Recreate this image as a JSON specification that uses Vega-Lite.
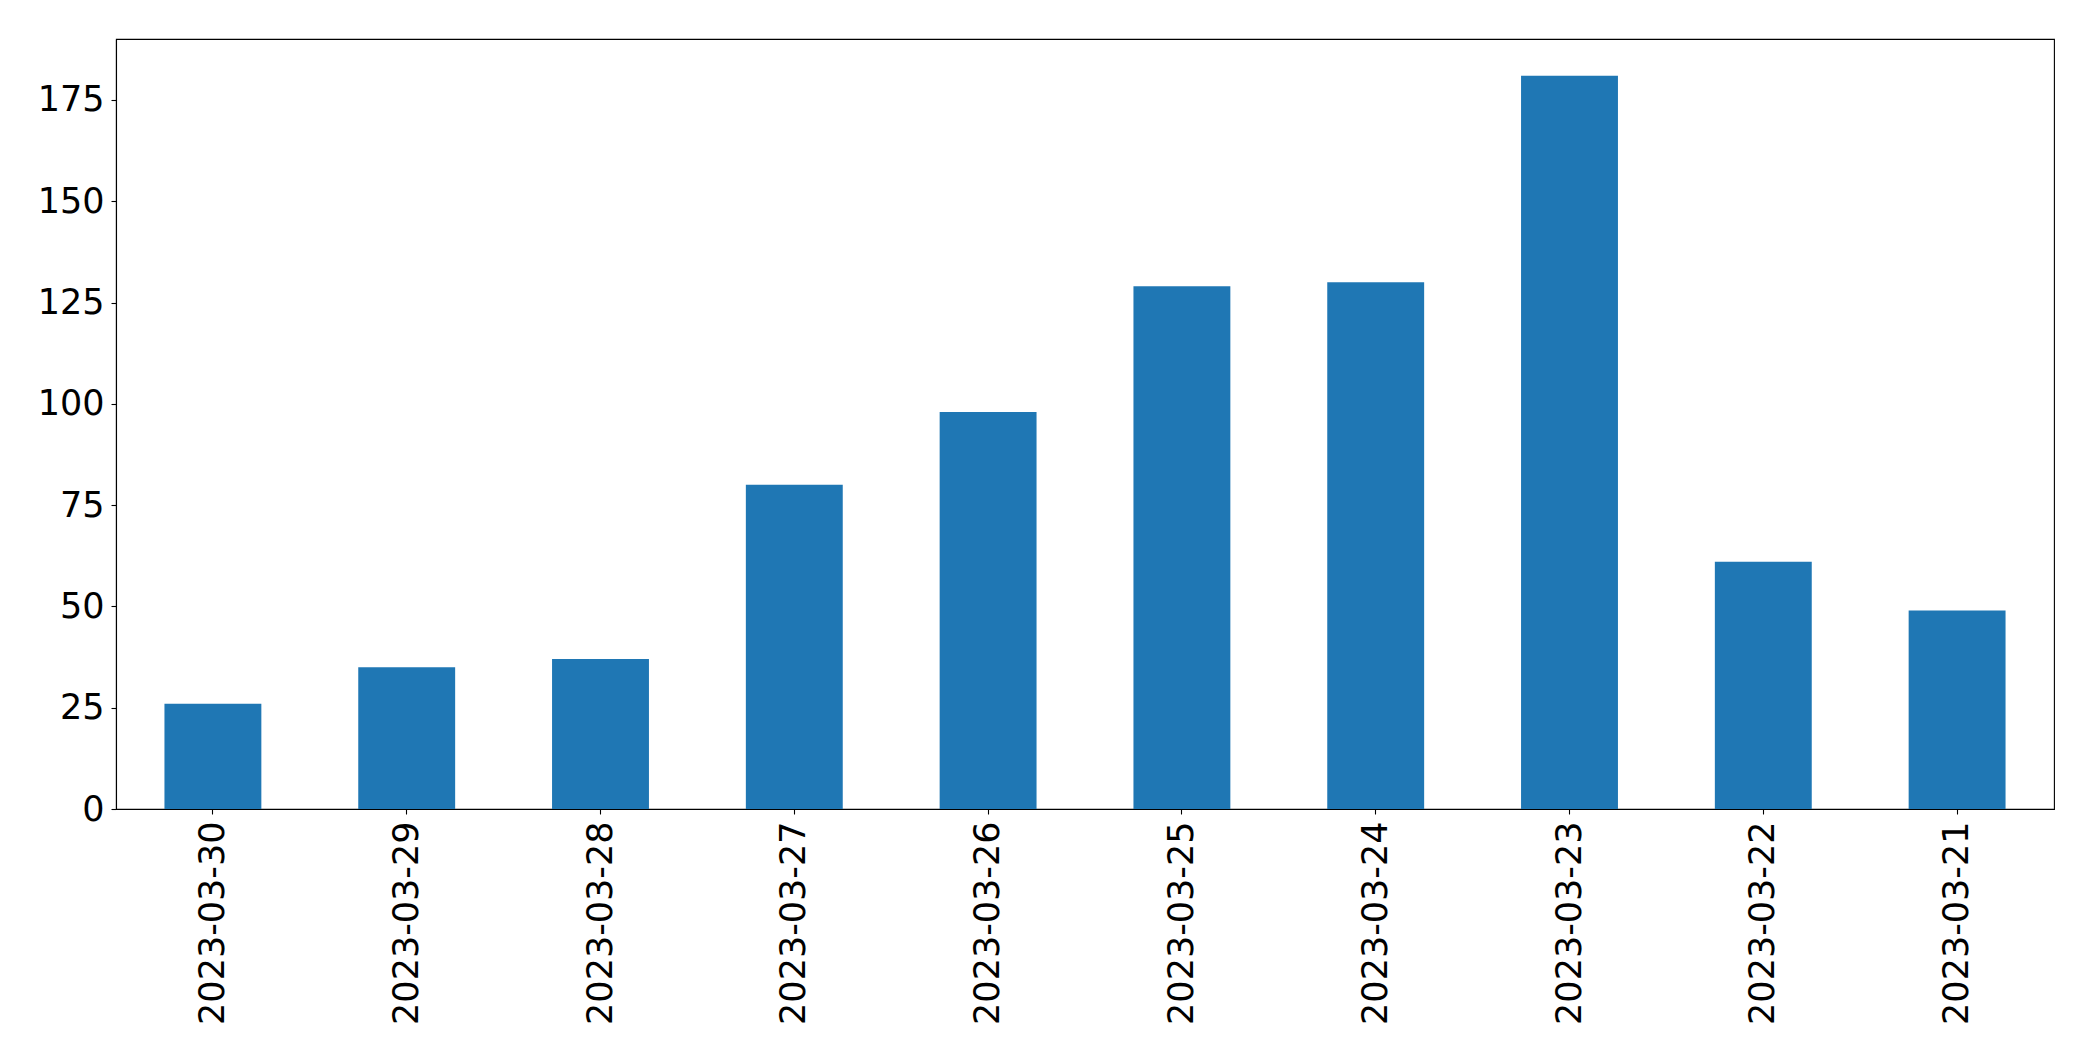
{
  "$schema": "https://vega.github.io/schema/vega-lite/v6.json",
  "autosize": {"type": "none"},
  "width": 1938,
  "height": 770,
  "padding": {"left": 116, "top": 39, "right": 39, "bottom": 252},
  "background": "white",
  "data": {
    "values": [
      {"date": "2023-03-30", "count": 26},
      {"date": "2023-03-29", "count": 35},
      {"date": "2023-03-28", "count": 37},
      {"date": "2023-03-27", "count": 80},
      {"date": "2023-03-26", "count": 98},
      {"date": "2023-03-25", "count": 129},
      {"date": "2023-03-24", "count": 130},
      {"date": "2023-03-23", "count": 181},
      {"date": "2023-03-22", "count": 61},
      {"date": "2023-03-21", "count": 49}
    ]
  },
  "mark": {"type": "bar", "color": "#1f77b4"},
  "encoding": {
    "x": {
      "field": "date",
      "type": "nominal",
      "sort": null,
      "scale": {"paddingInner": 0.5, "paddingOuter": 0.25},
      "axis": {
        "title": null,
        "labelAngle": 270,
        "labelAlign": "right",
        "labelBaseline": "middle",
        "labelFont": "DejaVu Sans",
        "labelFontSize": 35,
        "labelLimit": 0,
        "labelColor": "black",
        "labelPadding": 7,
        "tickSize": 5,
        "tickColor": "black",
        "tickWidth": 1.1,
        "domainColor": "black",
        "domainWidth": 1.1,
        "grid": false
      }
    },
    "y": {
      "field": "count",
      "type": "quantitative",
      "scale": {"domain": [0, 190.05], "nice": false, "zero": true},
      "axis": {
        "title": null,
        "values": [0, 25, 50, 75, 100, 125, 150, 175],
        "labelFont": "DejaVu Sans",
        "labelFontSize": 35,
        "labelColor": "black",
        "labelPadding": 7,
        "tickSize": 5,
        "tickColor": "black",
        "tickWidth": 1.1,
        "domainColor": "black",
        "domainWidth": 1.1,
        "grid": false
      }
    }
  },
  "config": {
    "view": {"stroke": "black", "strokeWidth": 1.1}
  }
}
